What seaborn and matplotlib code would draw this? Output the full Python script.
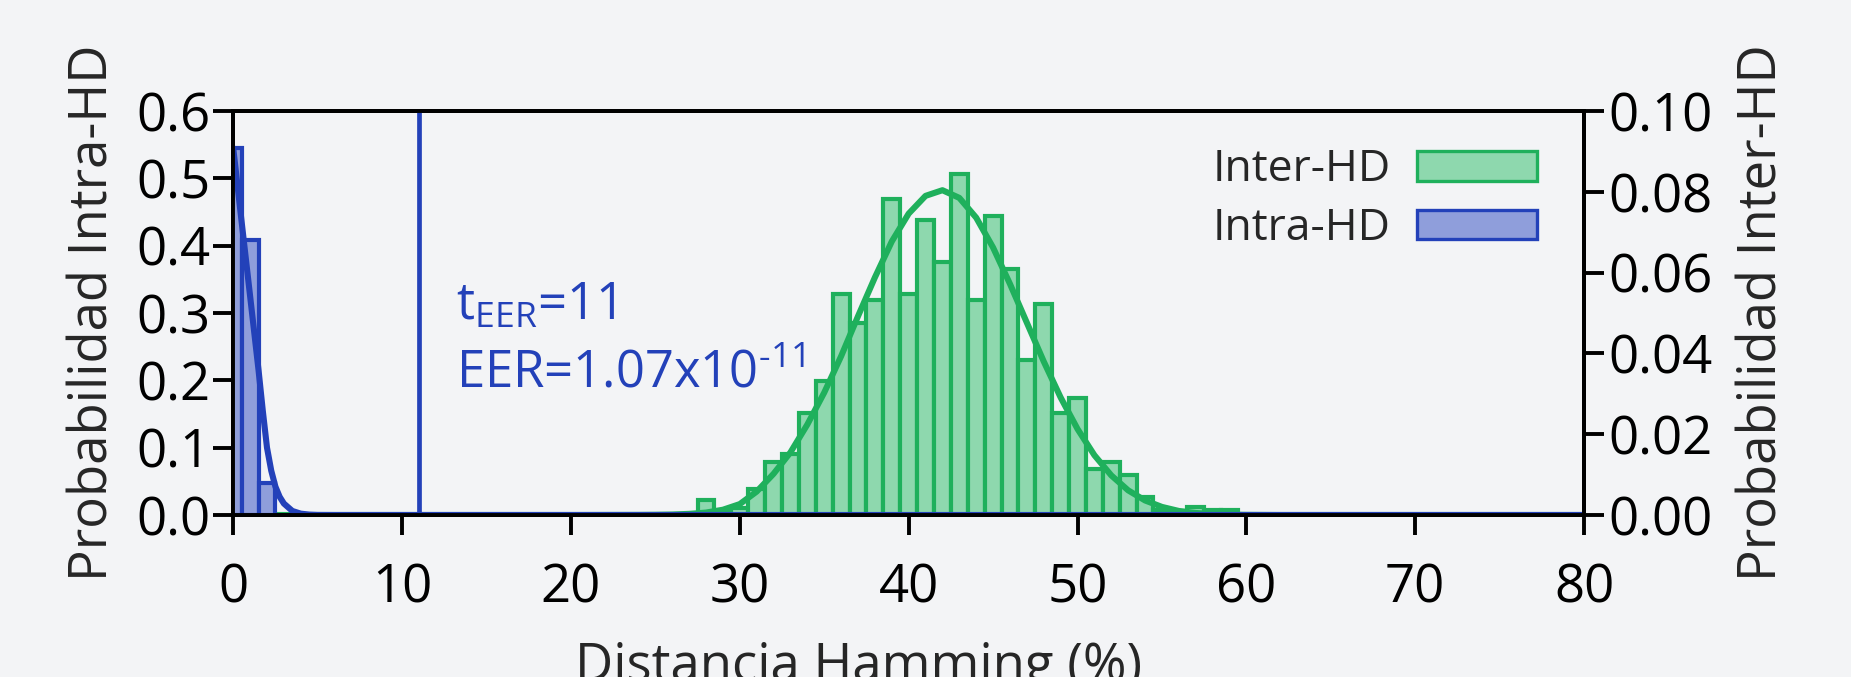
import numpy as np
import pandas as pd
import matplotlib
matplotlib.use("Agg")
import matplotlib.pyplot as plt
import seaborn as sns
from matplotlib.patches import Patch

# ---------------- data ----------------
intra_hd = [0, 1, 2]
intra_prob = [0.545, 0.409, 0.048]

inter_hd = list(range(28, 60))
inter_prob = [0.0037, 0.0008, 0.0018, 0.0064, 0.0132, 0.0151, 0.0253, 0.0332,
              0.0548, 0.0476, 0.0531, 0.0783, 0.0548, 0.0730, 0.0626, 0.0845,
              0.0531, 0.0740, 0.0610, 0.0383, 0.0523, 0.0253, 0.0289, 0.0115,
              0.0132, 0.0098, 0.0045, 0.0012, 0.0010, 0.0020, 0.0013, 0.0013]

intra_fit_x = [0, 0.25, 0.5, 0.75, 1.0, 1.25, 1.5, 1.75, 2.0, 2.25, 2.5, 2.75,
               3.0, 3.5, 4.0, 4.5, 5.0, 6.0, 80]
intra_fit_y = [0.545, 0.49, 0.435, 0.38, 0.325, 0.27, 0.215, 0.155, 0.100, 0.066,
               0.042, 0.027, 0.017, 0.006, 0.002, 0.0006, 0.0001, 0.0, 0.0]

inter_fit_x = [0, 20, 24, 25, 26, 27, 28, 29, 30, 31, 32, 33, 34, 35, 36, 37, 38,
               39, 40, 41, 42, 43, 44, 45, 46, 47, 48, 49, 50, 51, 52, 53, 54,
               55, 56, 57, 58, 59, 60, 62, 80]
inter_fit_y = [0, 0, 0.00003, 0.00006, 0.00012, 0.00028, 0.0006, 0.0013, 0.0027,
               0.0058, 0.0102, 0.0155, 0.0224, 0.0303, 0.0393, 0.0492, 0.0588,
               0.0677, 0.0746, 0.0790, 0.0804, 0.0785, 0.0736, 0.0662, 0.0572,
               0.0476, 0.0380, 0.0291, 0.0213, 0.0148, 0.0098, 0.0061, 0.0036,
               0.0020, 0.0010, 0.0005, 0.00022, 0.0001, 0.00004, 0.0, 0.0]

t_eer = 11
x_ticks = [0, 10, 20, 30, 40, 50, 60, 70, 80]
left_ticks = [0.0, 0.1, 0.2, 0.3, 0.4, 0.5, 0.6]
right_ticks = [0.00, 0.02, 0.04, 0.06, 0.08, 0.10]

# ---------------- style ----------------
BG = "#f3f4f6"
BLUE = "#2341b9"
BLUE_FILL = "#8f9edb"
GREEN = "#1fb05c"
GREEN_FILL = "#8ed8ae"

sns.set_style("ticks")
plt.rcParams["font.family"] = ["Open Sans", "DejaVu Sans"]
plt.rcParams["mathtext.fontset"] = "custom"
plt.rcParams["mathtext.rm"] = "Open Sans"
plt.rcParams["mathtext.it"] = "Open Sans:italic"
plt.rcParams["axes.unicode_minus"] = False

FS = 38
LW_SPINE = 2.8
fig = plt.figure(figsize=(18.51, 6.77), dpi=100, facecolor=BG)
ax = fig.add_axes([0.1260, 0.2393, 0.7298, 0.5967])
ax2 = ax.twinx()
ax.set_zorder(ax2.get_zorder() + 1)
ax.patch.set_visible(False)
ax2.set_facecolor(BG)

df_intra = pd.DataFrame({"hd": intra_hd, "p": intra_prob})
df_inter = pd.DataFrame({"hd": inter_hd, "p": inter_prob})

inter_bins = [b + 0.5 for b in range(27, 60)]
intra_bins = [-0.5, 0.5, 1.5, 2.5]

# Inter-HD histogram on right axis
sns.histplot(data=df_inter, x="hd", weights="p", bins=inter_bins,
             stat="count", color=GREEN_FILL, edgecolor=GREEN, linewidth=3.0,
             alpha=1.0, ax=ax2)
sns.lineplot(x=inter_fit_x, y=inter_fit_y, color=GREEN, linewidth=4.4, ax=ax2)

# Intra-HD histogram on left axis
sns.histplot(data=df_intra, x="hd", weights="p", bins=intra_bins,
             stat="count", color=BLUE_FILL, edgecolor=BLUE, linewidth=3.0,
             alpha=1.0, ax=ax)
sns.lineplot(x=intra_fit_x, y=intra_fit_y, color=BLUE, linewidth=4.4, ax=ax)
ax.axvline(t_eer, color=BLUE, linewidth=3.4)

ax.text(13.2, 0.29, r"$\mathrm{t_{EER}}$=11", color=BLUE, fontsize=36.5)
ax.text(13.2, 0.19, "EER=1.07x10$^{\\mathrm{\u201011}}$", color=BLUE, fontsize=36.5)

# axes limits and ticks
ax.set_xlim(0, 80)
ax.set_ylim(0, 0.6)
ax2.set_ylim(0, 0.10)
ax.set_xticks(x_ticks)
ax.set_xticklabels([str(v) for v in x_ticks])
ax.set_yticks(left_ticks)
ax.set_yticklabels([f"{v:.1f}" for v in left_ticks])
ax2.set_yticks(right_ticks)
ax2.set_yticklabels([f"{v:.2f}" for v in right_ticks])

for a in (ax, ax2):
    for s in a.spines.values():
        s.set_visible(True)
        s.set_linewidth(LW_SPINE)
        s.set_color("black")
ax.tick_params(axis="x", direction="out", length=14.5, width=LW_SPINE,
               labelsize=FS, pad=19, colors="black")
ax.tick_params(axis="y", direction="out", length=14.5, width=LW_SPINE,
               labelsize=FS, pad=2, colors="black")
ax2.tick_params(axis="y", direction="out", length=14.5, width=LW_SPINE,
                labelsize=FS, pad=3, colors="black")

ax.set_xlabel("Distancia Hamming (%)", fontsize=FS)
ax.xaxis.label.set_va("baseline")
ax.xaxis.set_label_coords(0.4626, -0.41)
ax.set_ylabel("Probabilidad Intra-HD", fontsize=FS)
ax.yaxis.label.set_va("center")
ax.yaxis.set_label_coords(-0.103, 0.5)
ax2.set_ylabel("Probabilidad Inter-HD", fontsize=FS)
ax2.yaxis.label.set_va("center")
ax2.yaxis.set_label_coords(1.1325, 0.5)

handles = [Patch(facecolor=GREEN_FILL, edgecolor=GREEN, linewidth=2.4, label="Inter-HD"),
           Patch(facecolor=BLUE_FILL, edgecolor=BLUE, linewidth=2.4, label="Intra-HD")]
ax.legend(handles=handles, loc="upper right", bbox_to_anchor=(0.9785, 0.953),
          frameon=False, fontsize=32, markerfirst=False, handlelength=2.7,
          handleheight=0.65, handletextpad=0.6, labelspacing=0.32,
          borderaxespad=0.0)

fig.savefig("out.png", dpi=100, facecolor=BG)
